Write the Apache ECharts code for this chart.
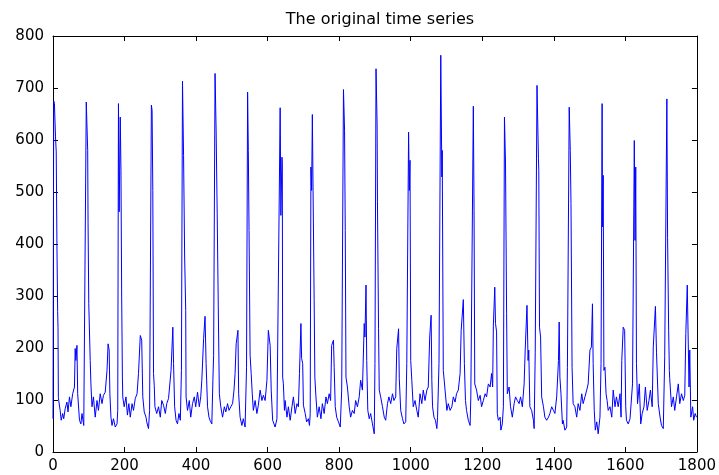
<!DOCTYPE html>
<html>
<head>
<meta charset="utf-8">
<title>The original time series</title>
<script src="https://cdn.jsdelivr.net/npm/echarts@6/dist/echarts.min.js"></script>
<style>
  html, body { margin: 0; padding: 0; background: #fff; }
  #chart { width: 719px; height: 475px; }
</style>
</head>
<body>
<div id="chart"></div>
<script>
// sample index (x) and value (y)
const timeIdx = [
  0, 2, 4, 7, 9, 11, 13, 14, 15, 16, 20, 23, 27, 30, 34, 39, 42, 46, 50, 55, 58, 60, 62, 64, 67, 69, 74, 78, 81, 86, 90,
  93, 95, 97, 98, 100, 104, 106, 109, 113, 118, 123, 127, 132, 137, 141, 146, 151, 154, 157, 159, 162, 165, 169, 174, 179, 181,
  183, 185, 188, 190, 192, 194, 195, 199, 204, 208, 212, 216, 221, 225, 230, 235, 239, 244, 248, 251, 255, 260, 262, 267, 270,
  275, 277, 279, 281, 283, 285, 290, 295, 300, 304, 309, 314, 318, 323, 328, 330, 335, 337, 340, 344, 348, 352, 356, 359,
  362, 365, 368, 371, 372, 376, 381, 385, 390, 395, 399, 404, 409, 413, 416, 421, 425, 428, 432, 436, 439, 444, 447, 449,
  453, 456, 459, 462, 465, 469, 474, 479, 483, 488, 492, 497, 502, 506, 509, 512, 517, 519, 523, 528, 532, 537, 541,
  544, 546, 548, 551, 554, 557, 560, 565, 570, 574, 579, 584, 588, 593, 598, 602, 607, 610, 614, 618, 621, 626, 630,
  635, 637, 640, 641, 642, 644, 647, 649, 654, 658, 663, 668, 672, 677, 682, 686, 689, 693, 695, 698, 700, 705, 709, 714, 717, 719,
  721, 723, 725, 727, 730, 732, 735, 739, 744, 749, 753, 758, 763, 767, 772, 776, 779, 784, 786, 789, 793, 798, 803, 807,
  812, 815, 817, 819, 823, 828, 832, 837, 842, 846, 851, 856, 860, 865, 870, 872, 875, 877, 880, 884, 888, 893, 898, 900,
  903, 906, 907, 910, 912, 916, 921, 926, 930, 935, 939, 944, 949, 953, 958, 961, 966, 968, 972, 977, 981, 986, 989,
  994, 996, 998, 1000, 1003, 1007, 1012, 1017, 1021, 1026, 1031, 1035, 1040, 1045, 1049, 1053, 1057, 1059, 1061, 1065, 1069, 1073, 1075, 1079,
  1084, 1087, 1088, 1091, 1096, 1101, 1105, 1110, 1115, 1119, 1124, 1128, 1133, 1138, 1141, 1147, 1150, 1153, 1156, 1161, 1166, 1168,
  1175, 1177, 1179, 1184, 1189, 1194, 1198, 1203, 1208, 1212, 1217, 1222, 1226, 1229, 1231, 1235, 1237, 1240, 1242, 1245, 1250, 1252, 1256, 1259,
  1262, 1265, 1268, 1270, 1275, 1279, 1284, 1289, 1293, 1298, 1303, 1307, 1312, 1317, 1320, 1325, 1328, 1330, 1333, 1338, 1343, 1345, 1348,
  1353, 1357, 1358, 1360, 1363, 1366, 1371, 1375, 1380, 1385, 1389, 1394, 1399, 1403, 1408, 1413, 1415, 1417, 1420, 1424, 1426, 1431, 1436, 1438,
  1443, 1446, 1448, 1451, 1454, 1459, 1464, 1468, 1473, 1478, 1482, 1487, 1492, 1496, 1501, 1505, 1508, 1510, 1513, 1516, 1520, 1524, 1529, 1532,
  1535, 1536, 1538, 1540, 1543, 1546, 1549, 1552, 1557, 1562, 1566, 1571, 1575, 1580, 1585, 1588, 1590, 1594, 1598, 1601, 1603, 1608, 1613, 1617, 1620,
  1625, 1627, 1629, 1631, 1634, 1639, 1643, 1647, 1652, 1656, 1661, 1666, 1670, 1675, 1678, 1681, 1684, 1687, 1692, 1697, 1701, 1706, 1710,
  1716, 1718, 1721, 1723, 1724, 1729, 1734, 1738, 1743, 1748, 1752, 1757, 1762, 1766, 1769, 1773, 1776, 1778, 1780, 1783, 1788, 1791, 1795, 1799
];
const values = [
  64, 675, 670, 606, 577, 400, 270, 240, 105, 99, 80, 61, 74, 64, 83, 96, 77, 106, 87, 112, 109, 125, 199, 176, 205, 112, 61, 54, 74, 51, 48,
  673, 670, 580, 442, 285, 176, 131, 87, 106, 67, 99, 80, 112, 93, 109, 115, 157, 208, 196, 112, 67, 51, 64, 48, 54, 80,
  670, 462, 644, 542, 298, 144, 106, 87, 106, 71, 93, 67, 93, 80, 103, 112, 151, 224, 215, 106, 77, 67, 58, 45, 80,
  667, 657, 503, 151, 128, 87, 74, 87, 67, 99, 90, 74, 93, 103, 106, 157, 240, 170, 87, 61, 54, 74, 61, 157,
  713, 570, 375, 272, 106, 80, 99, 67, 93, 106, 87, 115, 87, 106, 138, 218, 261, 170, 87, 67, 61, 54, 138, 186,
  728, 619, 458, 279, 112, 87, 67, 87, 77, 93, 80, 87, 93, 119, 151, 208, 234, 112, 67, 51, 64, 48, 163,
  692, 580, 426, 186, 151, 112, 80, 99, 74, 90, 119, 99, 109, 99, 138, 234, 205, 119, 61, 58, 48, 64, 61,
  662, 455, 567, 554, 144, 131, 80, 99, 67, 87, 61, 87, 106, 74, 93, 87, 151, 247, 180, 170, 90, 74, 58, 64, 51, 74,
  548, 503, 649, 503, 292, 144, 106, 67, 87, 64, 93, 74, 106, 93, 112, 99, 205, 215, 163, 87, 67, 58, 48, 119,
  697, 619, 426, 144, 125, 87, 67, 80, 74, 99, 87, 106, 138, 119, 247, 221, 321, 176, 80, 64, 74, 54, 35, 170,
  737, 631, 481, 237, 119, 106, 87, 67, 61, 93, 106, 93, 112, 99, 106, 199, 237, 141, 80, 64, 54, 58, 170,
  615, 503, 561, 176, 138, 87, 99, 80, 67, 112, 93, 119, 99, 119, 125, 221, 263, 138, 87, 67, 61, 45, 67, 170,
  763, 529, 580, 157, 119, 80, 93, 80, 87, 106, 96, 112, 119, 151, 234, 293, 170, 99, 80, 61, 51, 106,
  665, 465, 131, 119, 99, 109, 87, 99, 112, 106, 131, 125, 151, 125, 244, 317, 247, 231, 74, 61, 67, 42, 54, 87,
  644, 554, 266, 112, 125, 87, 67, 93, 106, 99, 93, 106, 87, 131, 196, 282, 176, 196, 87, 80, 61, 45, 192,
  705, 564, 542, 240, 221, 106, 87, 67, 61, 67, 74, 87, 80, 74, 106, 176, 250, 144, 112, 54, 61, 42, 48, 163,
  663, 580, 478, 163, 93, 87, 67, 93, 80, 112, 93, 106, 119, 131, 196, 202, 285, 170, 80, 42, 58, 35, 67, 170,
  670, 433, 532, 157, 163, 112, 99, 80, 87, 67, 119, 87, 106, 87, 112, 67, 176, 240, 234, 87, 61, 54, 64, 61, 131,
  599, 407, 548, 170, 93, 131, 54, 74, 87, 125, 80, 99, 119, 87, 202, 205, 280, 192, 93, 67, 51, 45, 183,
  679, 413, 234, 157, 141, 87, 106, 80, 106, 131, 93, 112, 99, 109, 228, 321, 202, 125, 196, 67, 87, 61, 74, 67
];
const xTicks = { min: 0, max: 1800, step: 200 };
const yTicks = { min: 0, max: 800, step: 100 };

const chart = echarts.init(document.getElementById('chart'));
const points = timeIdx.map((t, i) => [t, values[i]]);

const labelFont = { fontFamily: 'DejaVu Sans', fontSize: 15, color: '#000' };
const axisLine = { show: true, onZero: false, lineStyle: { color: '#000', width: 1 } };
const inTick = { show: true, inside: true, length: 5, lineStyle: { color: '#000', width: 1 } };
// plain numbers, no thousands separator
const plain = v => String(v);

function xAxis(pos, labels) {
  return {
    type: 'value', position: pos, min: xTicks.min, max: xTicks.max, interval: xTicks.step,
    axisLine, axisTick: inTick, splitLine: { show: false },
    axisLabel: Object.assign({ show: labels, margin: 7, formatter: plain }, labelFont)
  };
}
function yAxis(pos, labels) {
  return {
    type: 'value', position: pos, min: yTicks.min, max: yTicks.max, interval: yTicks.step,
    axisLine, axisTick: inTick, splitLine: { show: false },
    axisLabel: Object.assign({ show: labels, margin: 9, formatter: plain }, labelFont)
  };
}

chart.setOption({
  animation: false,
  backgroundColor: '#fff',
  title: {
    text: 'The original time series',
    left: 375, top: 7, textAlign: 'center',
    textStyle: { fontFamily: 'DejaVu Sans', fontSize: 16, fontWeight: 'normal', color: '#000' }
  },
  grid: { left: 53, right: 22, top: 36, bottom: 23 },
  xAxis: [xAxis('bottom', true), xAxis('top', false)],
  yAxis: [yAxis('left', true), yAxis('right', false)],
  series: [{
    type: 'line',
    data: points,
    showSymbol: false,
    lineStyle: { color: '#0000ff', width: 1 },
    clip: true
  }]
});
</script>
</body>
</html>
